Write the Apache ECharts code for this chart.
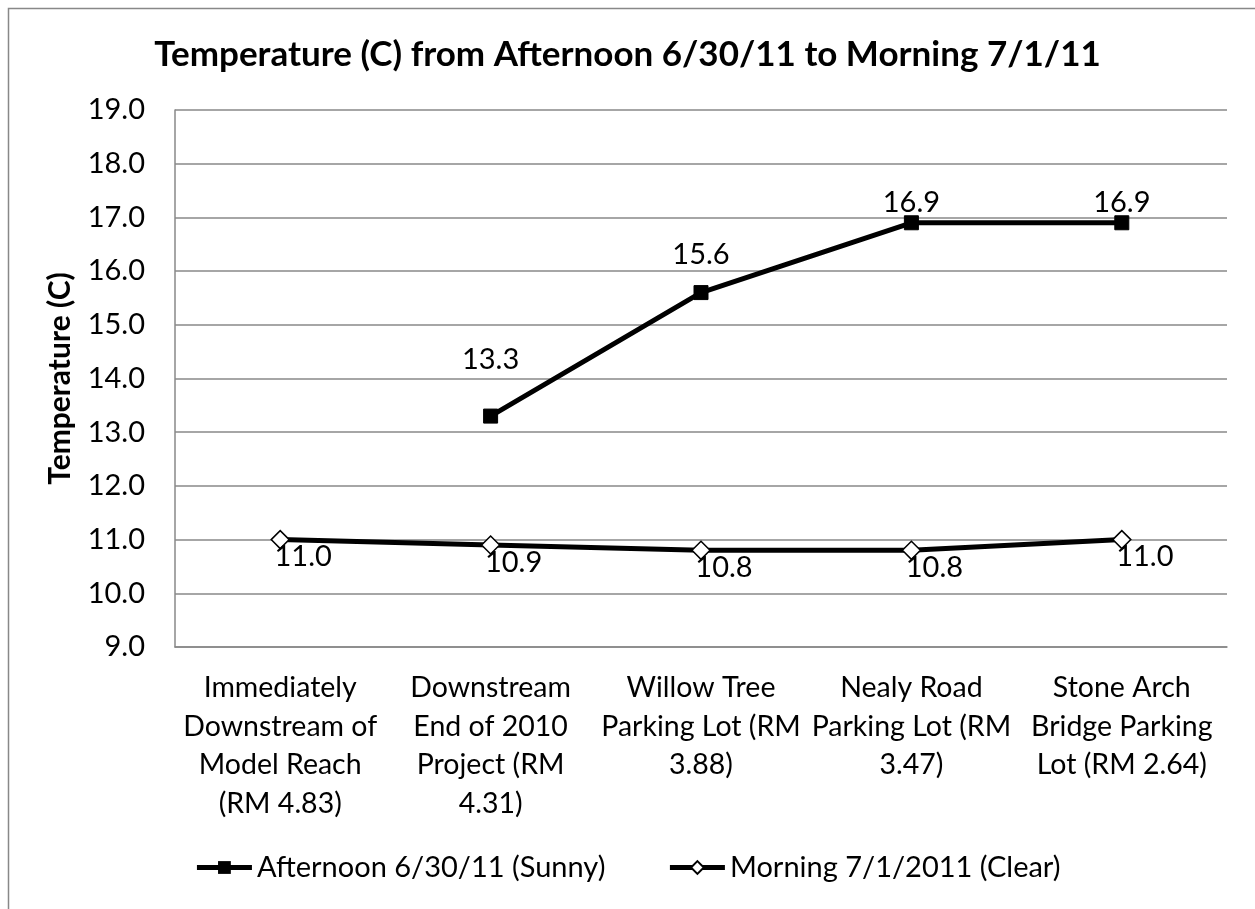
<!DOCTYPE html>
<html lang="en">
<head>
    <meta charset="UTF-8">
    <title>Temperature (C)</title>
    <style>
        html,body{
            padding: 0;margin: 0;background: #fff;
        }
        #chart{
            width: 1255px;height: 909px;
        }
    </style>
    <script src="https://cdn.jsdelivr.net/npm/echarts@6/dist/echarts.min.js"></script>
</head>
<body>
<div id="chart"></div>
<script>
    // data
    var categories = [
        'Immediately\nDownstream of\nModel Reach\n(RM 4.83)',
        'Downstream\nEnd of 2010\nProject (RM\n4.31)',
        'Willow Tree\nParking Lot (RM\n3.88)',
        'Nealy Road\nParking Lot (RM\n3.47)',
        'Stone Arch\nBridge Parking\nLot (RM 2.64)'
    ];
    var afternoon = [null, 13.3, 15.6, 16.9, 16.9];
    var morning = [11.0, 10.9, 10.8, 10.8, 11.0];
    var seriesNames = ['Afternoon 6/30/11 (Sunny)', 'Morning 7/1/2011 (Clear)'];

    // gap between each afternoon point and its label (Excel placed them unevenly)
    var pmLabelGap = [0, 34, 16, -2, -2];

    var font = 'Lato, "Open Sans", sans-serif';
    var myChart = echarts.init(document.getElementById('chart'));

    var pmData = afternoon.map(function (v, i) {
        return {value: v, label: {distance: pmLabelGap[i]}};
    });

    var option = {
        backgroundColor: '#fff',
        animation: false,
        title: {
            text: 'Temperature (C) from Afternoon 6/30/11 to Morning 7/1/11',
            left: 'center',
            top: 32,
            textStyle: {fontFamily: font, fontSize: 35, fontWeight: 'bold', color: '#000'}
        },
        graphic: [{
            type: 'rect',
            shape: {x: 8.5, y: 8.5, width: 1270, height: 920},
            style: {fill: 'none', stroke: '#888', lineWidth: 1.5},
            silent: true
        }],
        grid: {left: 175, right: 28, top: 110, bottom: 262},
        xAxis: {
            type: 'category',
            data: categories,
            boundaryGap: true,
            axisLine: {lineStyle: {color: '#888', width: 1.5}},
            axisTick: {show: false},
            axisLabel: {
                interval: 0, margin: 22, color: '#000',
                fontFamily: font, fontSize: 28.5, lineHeight: 38.5
            }
        },
        yAxis: {
            type: 'value',
            min: 9, max: 19, interval: 1,
            name: 'Temperature (C)',
            nameLocation: 'middle',
            nameGap: 100,
            nameTextStyle: {fontFamily: font, fontSize: 30, fontWeight: 'bold', color: '#000'},
            axisLine: {show: true, lineStyle: {color: '#888', width: 1.5}},
            axisTick: {show: false},
            splitLine: {lineStyle: {color: '#888', width: 1.5}},
            axisLabel: {
                margin: 30, color: '#000', fontFamily: font, fontSize: 29,
                formatter: function (v) { return v.toFixed(1); }
            }
        },
        legend: {
            bottom: 22,
            left: 'center',
            itemWidth: 55,
            itemHeight: 16,
            itemGap: 62,
            lineStyle: {width: 5, color: '#000'},
            textStyle: {fontFamily: font, fontSize: 29, color: '#000'},
            data: seriesNames
        },
        series: [
            {
                name: seriesNames[0],
                type: 'line',
                data: pmData,
                symbol: 'rect',
                symbolSize: 14,
                lineStyle: {color: '#000', width: 5},
                itemStyle: {color: '#000', borderColor: '#000'},
                label: {
                    show: true, position: 'top', color: '#000',
                    fontFamily: font, fontSize: 29,
                    formatter: function (p) { return p.value.toFixed(1); }
                },
                z: 3
            },
            {
                name: seriesNames[1],
                type: 'line',
                data: morning,
                symbol: 'diamond',
                symbolSize: 18,
                lineStyle: {color: '#000', width: 5},
                itemStyle: {color: '#fff', borderColor: '#000', borderWidth: 1.5},
                label: {
                    show: true, position: 'bottom', distance: -7, offset: [23, 0],
                    color: '#000', fontFamily: font, fontSize: 29,
                    formatter: function (p) { return p.value.toFixed(1); }
                },
                z: 3
            }
        ]
    };
    myChart.setOption(option);
</script>
</body>
</html>
